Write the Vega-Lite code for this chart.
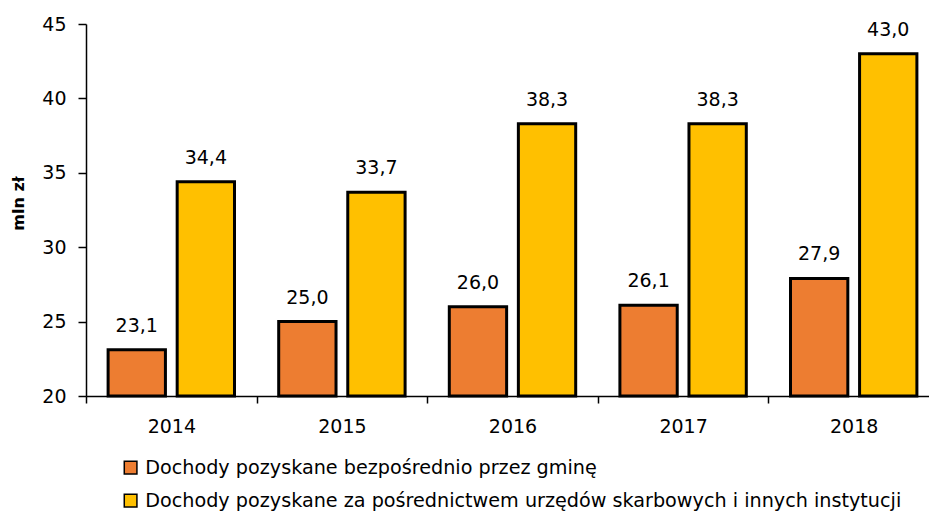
{
  "$schema": "https://vega.github.io/schema/vega-lite/v6.json",
  "autosize": "none",
  "padding": {"left": 86, "top": 24, "right": 0, "bottom": 120},
  "width": 853,
  "height": 372,
  "background": "white",
  "config": {
    "locale": {"number": {"decimal": ",", "thousands": " ", "grouping": [3], "currency": ["", " zł"]}},
    "view": {"stroke": null},
    "font": "DejaVu Sans"
  },
  "data": {
    "values": [
      {"year": "2014", "series": "Dochody pozyskane bezpośrednio przez gminę", "value": 23.1},
      {"year": "2014", "series": "Dochody pozyskane za pośrednictwem urzędów skarbowych i innych instytucji", "value": 34.4},
      {"year": "2015", "series": "Dochody pozyskane bezpośrednio przez gminę", "value": 25.0},
      {"year": "2015", "series": "Dochody pozyskane za pośrednictwem urzędów skarbowych i innych instytucji", "value": 33.7},
      {"year": "2016", "series": "Dochody pozyskane bezpośrednio przez gminę", "value": 26.0},
      {"year": "2016", "series": "Dochody pozyskane za pośrednictwem urzędów skarbowych i innych instytucji", "value": 38.3},
      {"year": "2017", "series": "Dochody pozyskane bezpośrednio przez gminę", "value": 26.1},
      {"year": "2017", "series": "Dochody pozyskane za pośrednictwem urzędów skarbowych i innych instytucji", "value": 38.3},
      {"year": "2018", "series": "Dochody pozyskane bezpośrednio przez gminę", "value": 27.9},
      {"year": "2018", "series": "Dochody pozyskane za pośrednictwem urzędów skarbowych i innych instytucji", "value": 43.0}
    ]
  },
  "encoding": {
    "x": {
      "field": "year", "type": "nominal",
      "scale": {"paddingInner": 0, "paddingOuter": 0},
      "axis": {
        "title": null, "labelAngle": 0, "labelFontSize": 19, "labelColor": "#000000",
        "domainColor": "#000000", "domainWidth": 1.5, "tickColor": "#000000", "tickWidth": 1.5,
        "tickSize": 7, "tickBand": "extent", "labelPadding": 14
      }
    },
    "xOffset": {
      "field": "series", "type": "nominal",
      "scale": {"paddingInner": 0.17, "paddingOuter": 0.32}
    },
    "y": {
      "field": "value", "type": "quantitative",
      "scale": {"domain": [20, 45], "zero": false, "clamp": true},
      "axis": {
        "title": "mln zł", "titleFontSize": 16, "titleFontWeight": "bold", "titleColor": "#000000", "titlePadding": 15, "titleY": 179,
        "values": [20, 25, 30, 35, 40, 45], "grid": false,
        "labelFontSize": 19, "labelColor": "#000000", "labelPadding": 12,
        "domainColor": "#000000", "domainWidth": 1.5, "tickColor": "#000000", "tickWidth": 1.5, "tickSize": 8
      }
    }
  },
  "layer": [
    {
      "mark": {"type": "bar", "stroke": "#000000", "strokeWidth": 3},
      "encoding": {
        "y2": {"datum": 20},
        "color": {
          "field": "series", "type": "nominal",
          "scale": {"range": ["#ED7D31", "#FFC000"]},
          "legend": {
            "title": null, "orient": "none", "legendX": 35, "legendY": 434, "direction": "vertical",
            "symbolType": "square", "symbolSize": 160, "symbolStrokeColor": "#000000", "symbolStrokeWidth": 1.5,
            "labelFontSize": 19.2, "labelColor": "#000000", "rowPadding": 13, "labelOffset": 5, "labelLimit": 900, "padding": 0
          }
        }
      }
    },
    {
      "mark": {"type": "text", "dy": -18, "baseline": "alphabetic", "fontSize": 19, "color": "#000000"},
      "encoding": {
        "text": {"field": "value", "type": "quantitative", "format": ".1f"}
      }
    }
  ]
}
